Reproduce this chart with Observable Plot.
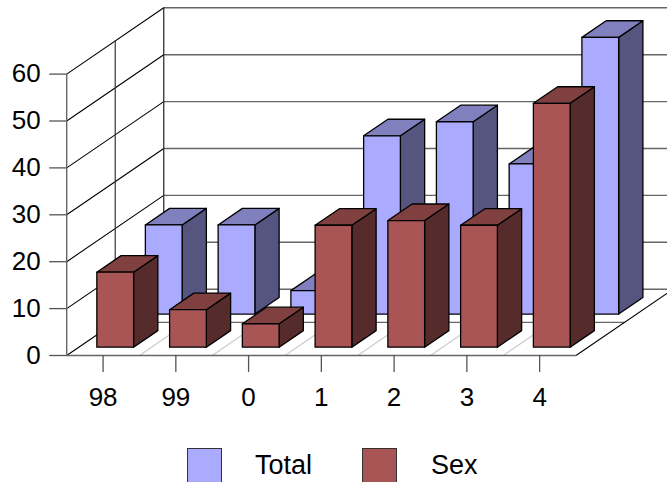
<!DOCTYPE html>
<html>
<head>
<meta charset="utf-8">
<style>
html,body{margin:0;padding:0;background:#fff;overflow:hidden;width:667px;height:482px}
#legend{position:relative;height:52px;width:667px;font-family:"Liberation Sans",Arial,sans-serif;font-size:27px;color:#000}
#legend i{position:absolute;top:18px;width:33px;height:33px;border:1px solid #333;box-sizing:content-box}
#legend span{position:absolute;top:20px;line-height:30px}
svg{display:block}
</style>
<script src="https://cdn.jsdelivr.net/npm/d3@7"></script>
<script src="https://cdn.jsdelivr.net/npm/@observablehq/plot@0.6"></script>
</head>
<body>
<div id="chart"></div>
<div id="legend"></div>
<script>
const categories = ["98","99","0","1","2","3","4"];
const totalValues = [19,19,5,38,41,32,59];
const sexValues = [16,8,5,26,27,26,52];
const yTicks = [0,10,20,30,40,50,60];
const seriesNames = ["Total","Sex"];

// oblique projection: depth 0 = front of the floor, depth 1 = back wall
const depthX = 1.334;   // category units per full depth
const depthY = 14.14;   // value units per full depth
const barWidth = 0.505;
const barDepth = 0.25;
const px = (c, d) => c + d * depthX;
const py = (v, d) => v + d * depthY;
const P = (c, v, d) => ({x: px(c, d), y: py(v, d)});

const n = categories.length;
const wallLine = {stroke: "#000", strokeWidth: 1.1};
const greyLine = {stroke: "#666", strokeWidth: 1.4};
const seg = (pts, style) => Plot.line(pts, {x: "x", y: "y", ...style});

function barMarks(i, value, d0, front, top, side) {
  const a = i + 0.5 - barWidth / 2, b = a + barWidth, d1 = d0 + barDepth;
  const face = (pts, fill) => Plot.line([...pts, pts[0]], {
    x: "x", y: "y", fill, stroke: "#000", strokeWidth: 1.3, strokeLinejoin: "round"
  });
  return [
    face([P(b,0,d0), P(b,0,d1), P(b,value,d1), P(b,value,d0)], side),
    face([P(a,value,d0), P(b,value,d0), P(b,value,d1), P(a,value,d1)], top),
    face([P(a,0,d0), P(b,0,d0), P(b,value,d0), P(a,value,d0)], front)
  ];
}

const marks = [
  // left wall and back wall grid
  ...yTicks.map(v => seg([P(0,v,0), P(0,v,1)], wallLine)),
  ...yTicks.map(v => seg([P(0,v,1), P(n,v,1)], greyLine)),
  seg([P(0,0,0), P(0,60,0)], greyLine),
  seg([P(0,0,0.5), P(0,60,0.5)], {stroke:"#333", strokeWidth:1.2}),
  seg([P(0,0,1), P(0,60,1)], {stroke:"#222", strokeWidth:1.2}),
  // floor
  ...d3.range(1, n).map(i => seg([P(i,0,0), P(i,0,0.5)], {stroke:"#ccc", strokeWidth:1.2})),
  seg([P(0,0,0.5), P(n,0,0.5)], greyLine),
  seg([P(n,0,0), P(n,0,1)], wallLine),
  seg([P(0,0,0), P(n,0,0)], greyLine),
  // bars, back row first
  ...totalValues.flatMap((v,i) => barMarks(i, v, 0.625, "#AAAAFF", "#8080BF", "#555580")),
  ...sexValues.flatMap((v,i) => barMarks(i, v, 0.125, "#AA5555", "#804040", "#552B2B")),
  // axes
  Plot.axisY({
    ticks: yTicks, tickSize: 17, tickPadding: 9, stroke: "#555", strokeWidth: 1.3,
    fontSize: 26, label: null, tickFormat: d => String(d), fill: "#000"
  }),
  Plot.axisX({
    ticks: categories.map((c,i) => i + 0.5),
    tickFormat: v => categories[Math.round(v - 0.5)],
    tickSize: 17, tickPadding: 15, stroke: "#555", strokeWidth: 1.3, fontSize: 26, label: null, fill: "#000"
  })
];

const chart = Plot.plot({
  width: 667, height: 430,
  marginLeft: 66.2, marginRight: 91.5, marginTop: 73.6, marginBottom: 75,
  x: {domain: [0, n], axis: null},
  y: {domain: [0, 60], axis: null},
  style: {fontFamily: '"Liberation Sans",Arial,sans-serif', background: "transparent"},
  marks
});
document.getElementById("chart").append(chart);

const legend = document.getElementById("legend");
const swatches = ["#AAAAFF", "#AA5555"];
const swatchLeft = [187, 362], textLeft = [255, 431];
seriesNames.forEach((name, i) => {
  const sw = document.createElement("i");
  sw.style.left = swatchLeft[i] + "px";
  sw.style.background = swatches[i];
  legend.append(sw);
  const t = document.createElement("span");
  t.style.left = textLeft[i] + "px";
  t.textContent = name;
  legend.append(t);
});
</script>
</body>
</html>
